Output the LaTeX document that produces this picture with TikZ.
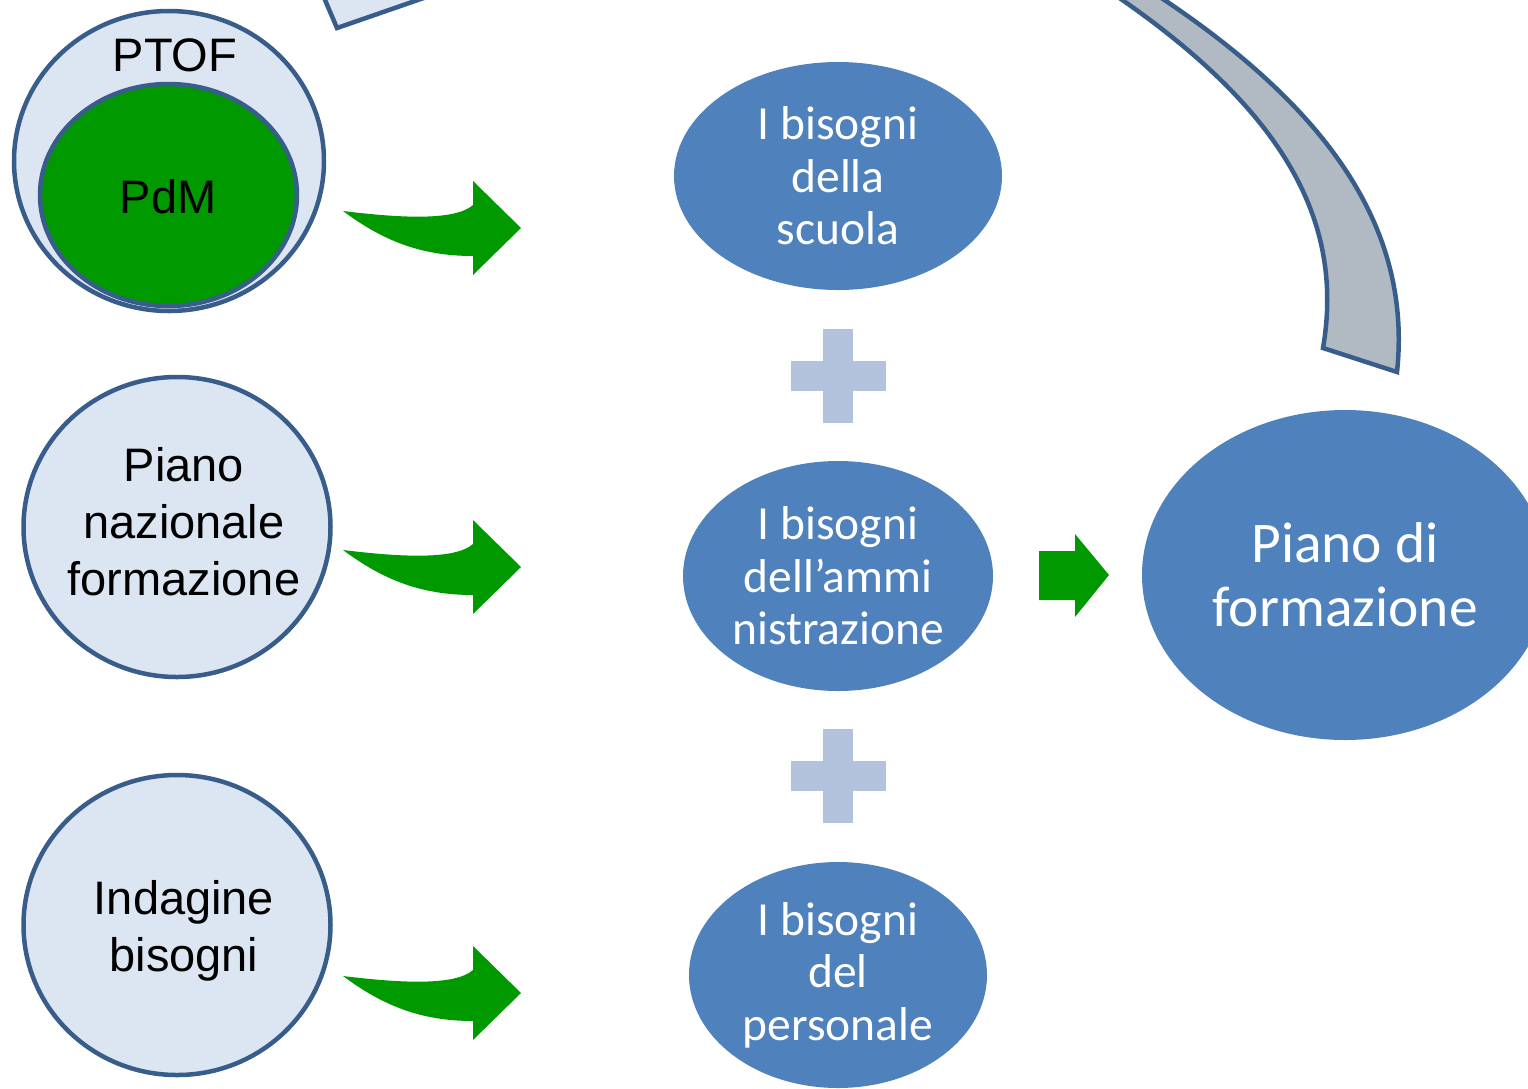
\documentclass[tikz,border=0pt]{standalone}
\usepackage{fontspec}
\setmainfont{Liberation Sans}
\newfontfamily\calfont{Carlito}
\usetikzlibrary{shapes.geometric}
\definecolor{rim}{HTML}{385D8A}
\definecolor{paleblue}{HTML}{DCE6F2}
\definecolor{leaf}{HTML}{009900}
\definecolor{steel}{HTML}{4F81BD}
\definecolor{plusblue}{HTML}{B3C2DC}
\definecolor{slate}{HTML}{B1B9C3}
\begin{document}
\begin{tikzpicture}[x=1pt,y=-1pt,
  source/.style={ellipse, draw=rim, line width=4.5pt, fill=paleblue, inner sep=0pt},
  need/.style={ellipse, fill=steel, inner sep=0pt},
  darktext/.style={font=\fontsize{47}{57}\selectfont, align=center, text=black, inner sep=0pt},
  whitetext/.style={font=\calfont\fontsize{47.5}{52.5}\selectfont, align=center, text=white, inner sep=0pt},
  bigwhite/.style={font=\calfont\fontsize{57.5}{64}\selectfont, align=center, text=white, inner sep=0pt},
  greenarrow/.style={fill=leaf},
  plusmark/.style={fill=plusblue},
  band/.style={draw=rim, line width=4.5pt, line join=miter},
]
\useasboundingbox (0,0) rectangle (1528,1088);
\clip (0,0) rectangle (1528,1088);

% fragment of a shape entering from the top edge
\filldraw[band, fill=paleblue] (321.6,-8) -- (337,28) -- (441,-8) -- cycle;

% large returning band on the right
\filldraw[band, fill=slate]
  (1118,-3) .. controls (1282,110) and (1345,220) .. (1323,348)
  -- (1397,372) .. controls (1412,230) and (1330,110) .. (1160,-3) -- cycle;

% sources on the left
\node[source, minimum width=310pt, minimum height=300pt] (ptof) at (169,161) {};
\node[source, fill=leaf, minimum width=257pt, minimum height=222pt] (pdm) at (168.5,195) {};
\node[darktext] (ptofT) at (175,55) {PTOF};
\node[darktext] (pdmT) at (168,197) {PdM};

\node[source, minimum width=307pt, minimum height=300pt] (pnf) at (177,527) {};
\node[darktext] (pnfT) at (184,522) {Piano\\nazionale\\formazione};

\node[source, minimum width=307pt, minimum height=300pt] (ind) at (177,925) {};
\node[darktext] (indT) at (184,931) {Indagine\\bisogni};

% needs in the middle column
\node[need, minimum width=328pt, minimum height=228pt] (scuola) at (838,176) {};
\node[whitetext] (scuolaT) at (scuola) {I bisogni\\della\\scuola};

\node[need, minimum width=310pt, minimum height=230pt] (amm) at (838,576) {};
\node[whitetext] (ammT) at (amm) {I bisogni\\dell’ammi\\nistrazione};

\node[need, minimum width=298pt, minimum height=226pt] (pers) at (838,975) {};
\node[whitetext] (persT) at (pers) {I bisogni\\del\\personale};

% resulting plan
\node[need, minimum width=406pt, minimum height=330pt] (piano) at (1345,575) {};
\node[bigwhite] (pianoT) at (piano) {Piano di\\formazione};

% plus signs between the needs
\foreach \cy in {376,776}{
  \fill[plusmark] (823,\cy-47) rectangle (853,\cy+47);
  \fill[plusmark] (791,\cy-15) rectangle (886,\cy+15);
}

% bent green arrows from sources to needs
\foreach \dy in {0,339,765}{
  \begin{scope}[shift={(0,\dy)}]
    \fill[greenarrow] (343,211) .. controls (400,218) and (455,221) .. (473,205)
      -- (473,181) -- (521,228) -- (473,275) -- (473,256)
      .. controls (420,256) and (382,240) .. (343,211) -- cycle;
  \end{scope}
}

% straight arrow towards the plan
\fill[greenarrow] (1039,551) -- (1075,551) -- (1075,534) -- (1109,575)
  -- (1075,617) -- (1075,600) -- (1039,600) -- cycle;
\end{tikzpicture}
\end{document}
